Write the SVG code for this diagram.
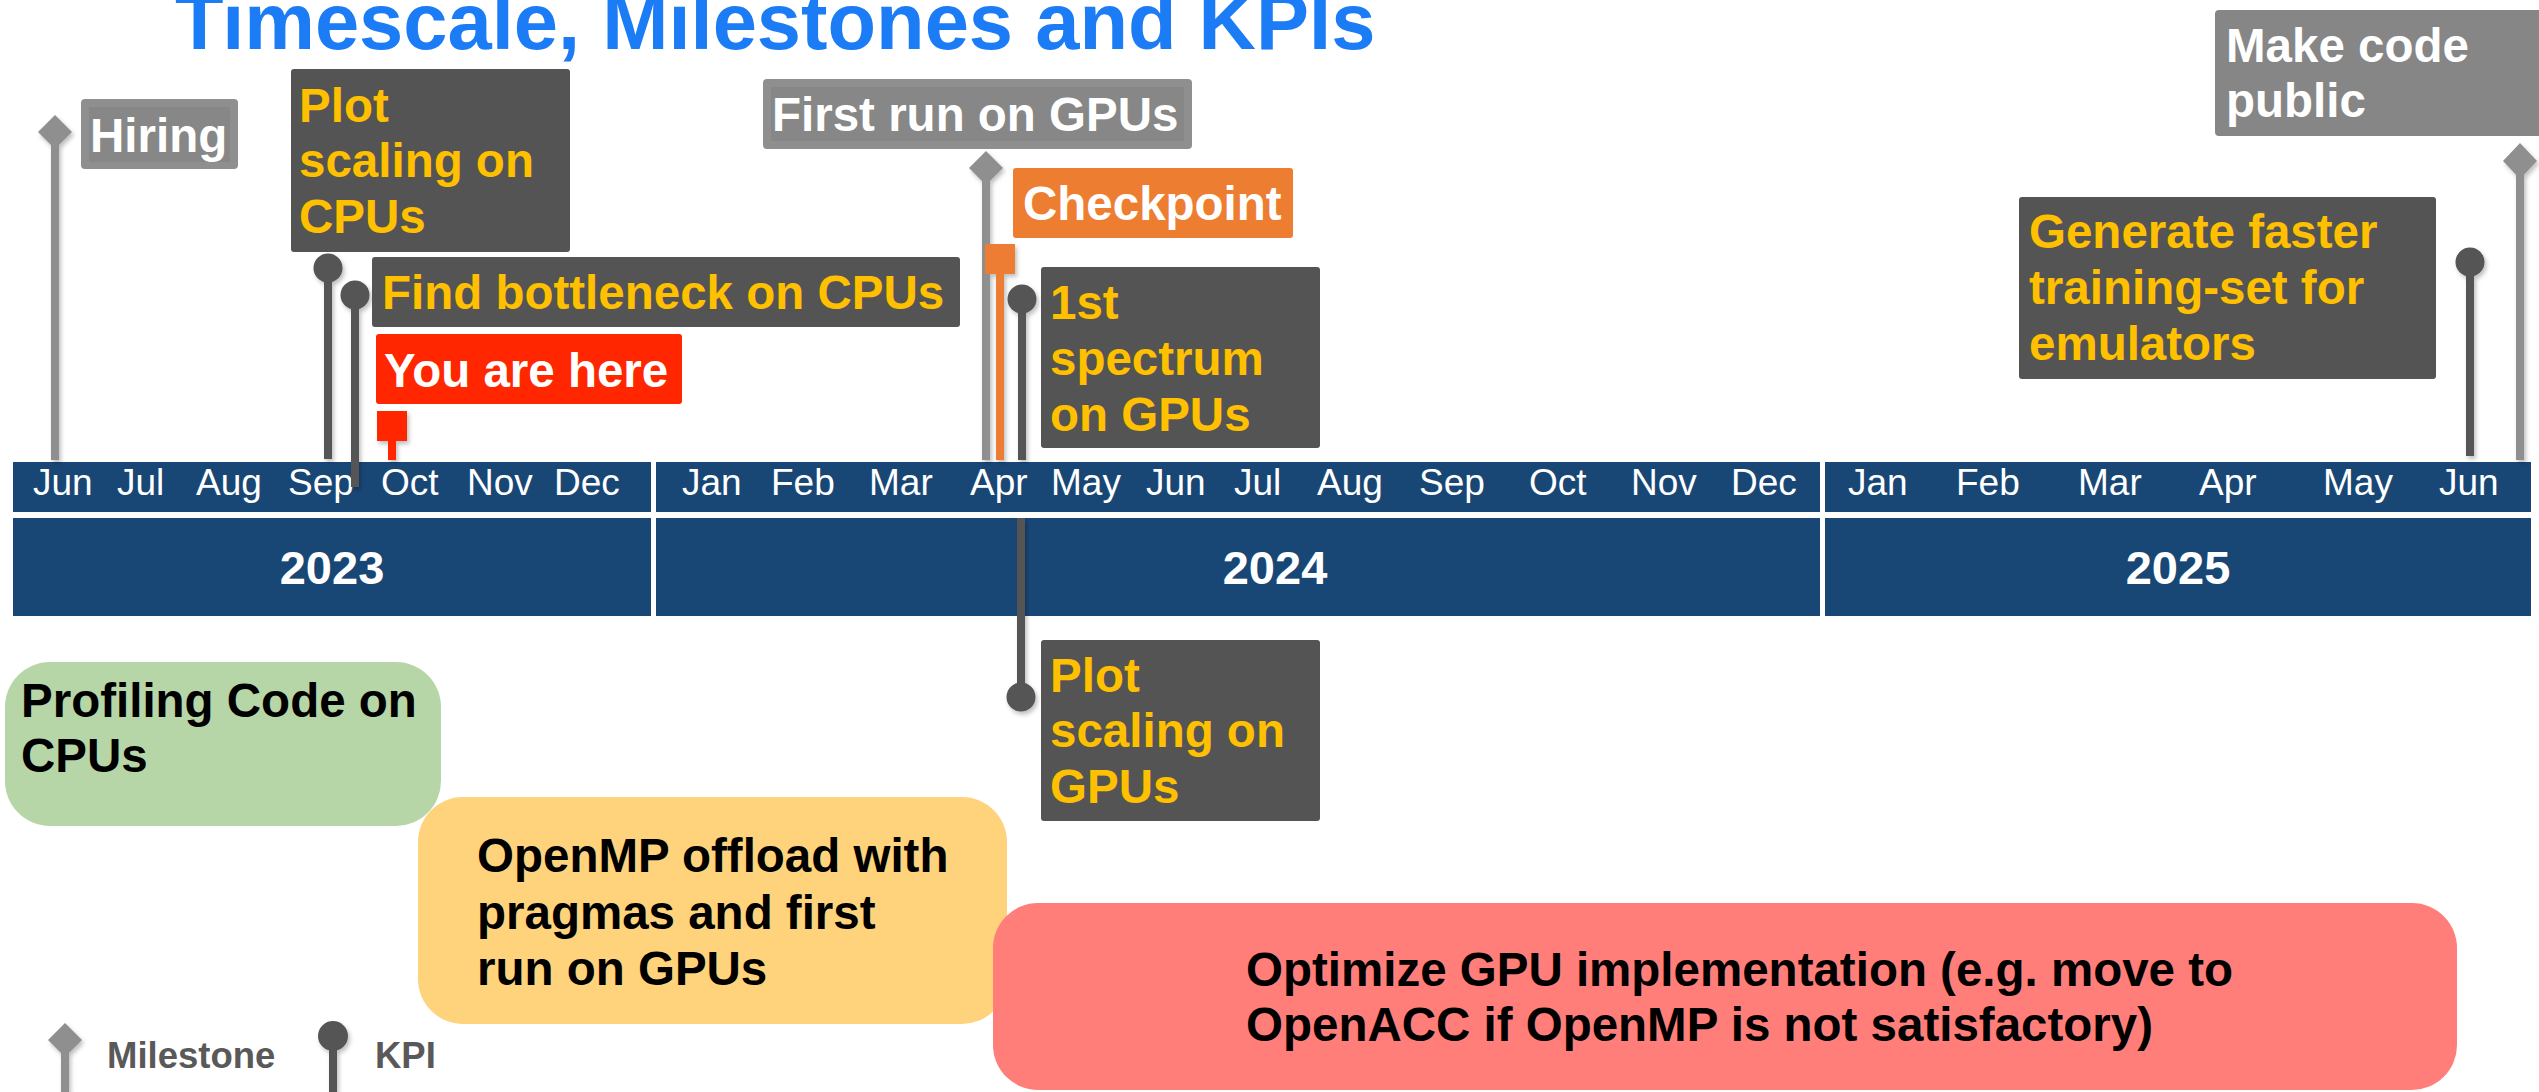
<svg xmlns="http://www.w3.org/2000/svg" width="2539" height="1092" viewBox="0 0 2539 1092">
<defs>
<style>
text{font-family:"Liberation Sans",Arial,sans-serif}
.b{font-weight:bold;font-size:47.5px}
.y{fill:#FFC000}
.w{fill:#FFFFFF}
.k{fill:#000000}
.mon{font-size:37px;fill:#FFFFFF}
.yr{font-size:47px;font-weight:bold;fill:#FFFFFF;text-anchor:middle}
.bar{fill:#194775}
.dark{fill:#545454}
.mg{stroke:#8F8F8F;stroke-width:8;fill:none}
.kg{stroke:#545454;stroke-width:8;fill:none}
.og{stroke:#ED7D31;stroke-width:8;fill:none}
.rg{stroke:#FF2600;stroke-width:8;fill:none}
.dia{fill:#8F8F8F}
.pin{fill:#545454}
</style>
<filter id="sh" x="-50%" y="-50%" width="200%" height="200%">
<feDropShadow dx="2" dy="3" stdDeviation="2" flood-color="#000" flood-opacity="0.25"/>
</filter>
</defs>
<rect width="2539" height="1092" fill="#FFFFFF"/>

<text x="175" y="49" font-size="79.5" font-weight="bold" fill="#1C7CF6">Timescale, Milestones and KPIs</text>

<g id="timeline">
<rect class="bar" x="13" y="462" width="638" height="50"/>
<rect class="bar" x="656" y="462" width="1164" height="50"/>
<rect class="bar" x="1825" y="462" width="706" height="50"/>
<rect class="bar" x="13" y="518" width="638" height="98"/>
<rect class="bar" x="656" y="518" width="1164" height="98"/>
<rect class="bar" x="1825" y="518" width="706" height="98"/>
<g class="mon">
<text x="33" y="495">Jun</text><text x="117" y="495">Jul</text><text x="196" y="495">Aug</text><text x="288" y="495">Sep</text><text x="381" y="495">Oct</text><text x="467" y="495">Nov</text><text x="554" y="495">Dec</text>
<text x="682" y="495">Jan</text><text x="771" y="495">Feb</text><text x="869" y="495">Mar</text><text x="970" y="495">Apr</text><text x="1051" y="495">May</text><text x="1146" y="495">Jun</text><text x="1234" y="495">Jul</text><text x="1317" y="495">Aug</text><text x="1419" y="495">Sep</text><text x="1529" y="495">Oct</text><text x="1631" y="495">Nov</text><text x="1731" y="495">Dec</text>
<text x="1848" y="495">Jan</text><text x="1956" y="495">Feb</text><text x="2078" y="495">Mar</text><text x="2199" y="495">Apr</text><text x="2323" y="495">May</text><text x="2439" y="495">Jun</text>
</g>
<text class="yr" x="332" y="584">2023</text>
<text class="yr" x="1275" y="584">2024</text>
<text class="yr" x="2178" y="584">2025</text>
</g>

<g id="connectors" filter="url(#sh)">
<line class="mg" x1="55" y1="132" x2="55" y2="460"/>
<polygon class="dia" points="55,115 72,132 55,149 38,132"/>
<line class="kg" x1="328" y1="268" x2="328" y2="459"/>
<circle class="pin" cx="328" cy="268" r="14.5"/>
<line class="kg" x1="355" y1="295" x2="355" y2="487"/>
<circle class="pin" cx="355" cy="295" r="14.5"/>
<line class="rg" x1="392" y1="441" x2="392" y2="460"/>
<rect x="377" y="411" width="30" height="30" fill="#FF2600"/>
<line class="mg" x1="986" y1="168" x2="986" y2="460"/>
<polygon class="dia" points="986,151 1003,168 986,185 969,168"/>
<line class="og" x1="1000" y1="274" x2="1000" y2="460"/>
<rect x="985" y="244" width="30" height="30" fill="#ED7D31"/>
<line class="kg" x1="1022" y1="299" x2="1022" y2="460"/>
<circle class="pin" cx="1022" cy="299" r="14.5"/>
<line class="kg" x1="1021" y1="518" x2="1021" y2="697"/>
<circle class="pin" cx="1021" cy="697" r="14.5"/>
<line class="kg" x1="2470" y1="262" x2="2470" y2="456"/>
<circle class="pin" cx="2470" cy="262" r="14.5"/>
<line class="mg" x1="2520" y1="161" x2="2520" y2="460"/>
<polygon class="dia" points="2520,143 2537,161 2520,179 2503,161"/>
</g>

<g id="hiring">
<rect x="81" y="99" width="157" height="70" rx="4" fill="#8F8F8F"/>
<rect x="89" y="107" width="141" height="55" fill="#878787"/>
<text class="b w" x="90" y="152">Hiring</text>
</g>

<g id="plot-scaling-cpus">
<rect class="dark" x="291" y="69" width="279" height="183" rx="3"/>
<text class="b y" x="299"><tspan x="299" y="122">Plot</tspan><tspan x="299" y="177">scaling on</tspan><tspan x="299" y="233">CPUs</tspan></text>
</g>

<g id="find-bottleneck">
<rect class="dark" x="372" y="257" width="588" height="70" rx="3"/>
<text class="b y" x="382" y="309">Find bottleneck on CPUs</text>
</g>

<g id="you-are-here">
<rect x="376" y="334" width="306" height="70" rx="3" fill="#FF2600"/>
<text class="b w" x="384" y="387">You are here</text>
</g>

<g id="first-run-gpus">
<rect x="763" y="79" width="429" height="70" rx="4" fill="#8F8F8F"/>
<rect x="771" y="87" width="413" height="54" fill="#878787"/>
<text class="b w" x="772" y="131">First run on GPUs</text>
</g>

<g id="checkpoint">
<rect x="1013" y="168" width="280" height="70" rx="3" fill="#ED7D31"/>
<text class="b w" x="1023" y="220">Checkpoint</text>
</g>

<g id="first-spectrum">
<rect class="dark" x="1041" y="267" width="279" height="181" rx="3"/>
<text class="b y"><tspan x="1050" y="319">1st</tspan><tspan x="1050" y="375">spectrum</tspan><tspan x="1050" y="431">on GPUs</tspan></text>
</g>

<g id="plot-scaling-gpus">
<rect class="dark" x="1041" y="640" width="279" height="181" rx="3"/>
<text class="b y"><tspan x="1050" y="692">Plot</tspan><tspan x="1050" y="747">scaling on</tspan><tspan x="1050" y="803">GPUs</tspan></text>
</g>

<g id="generate-training-set">
<rect class="dark" x="2019" y="197" width="417" height="182" rx="3"/>
<text class="b y"><tspan x="2029" y="248">Generate faster</tspan><tspan x="2029" y="304">training-set for</tspan><tspan x="2029" y="360">emulators</tspan></text>
</g>

<g id="make-code-public">
<rect x="2215" y="10" width="330" height="126" rx="4" fill="#868686"/>
<text class="b w"><tspan x="2226" y="62">Make code</tspan><tspan x="2226" y="117">public</tspan></text>
</g>

<g id="profiling-cpus">
<rect x="5" y="662" width="436" height="164" rx="45" fill="#B7D6A7"/>
<text class="b k"><tspan x="21" y="717">Profiling Code on</tspan><tspan x="21" y="772">CPUs</tspan></text>
</g>

<g id="openmp-offload">
<rect x="418" y="797" width="589" height="227" rx="45" fill="#FED37C"/>
<text class="b k"><tspan x="477" y="872">OpenMP offload with</tspan><tspan x="477" y="929">pragmas and first</tspan><tspan x="477" y="985">run on GPUs</tspan></text>
</g>

<g id="optimize-gpu">
<rect x="993" y="903" width="1464" height="187" rx="45" fill="#FF7E79"/>
<text class="b k"><tspan x="1246" y="986">Optimize GPU implementation (e.g. move to</tspan><tspan x="1246" y="1041">OpenACC if OpenMP is not satisfactory)</tspan></text>
</g>

<g id="legend">
<g filter="url(#sh)">
<line class="mg" x1="65" y1="1040" x2="65" y2="1092"/>
<polygon class="dia" points="65,1023 82,1040 65,1057 48,1040"/>
<line class="kg" x1="333" y1="1036" x2="333" y2="1092"/>
<circle class="pin" cx="333" cy="1036" r="15"/>
</g>
<text x="107" y="1068" font-size="36.5" font-weight="bold" fill="#595959">Milestone</text>
<text x="375" y="1068" font-size="36.5" font-weight="bold" fill="#595959">KPI</text>
</g>
</svg>
